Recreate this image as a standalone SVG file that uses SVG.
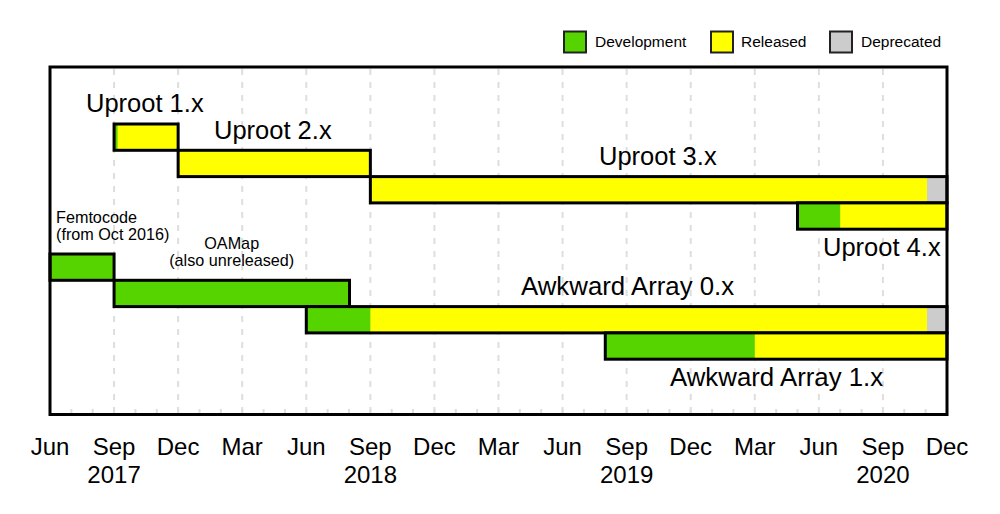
<svg xmlns="http://www.w3.org/2000/svg" width="1000" height="514" viewBox="0 0 1000 514">
<style>
text{font-family:"Liberation Sans",Arial,Helvetica,sans-serif;fill:#000}
.big{font-size:25.8px}
.up{font-size:25.5px}
.sm{font-size:16.2px}
.lt{font-size:15.5px}
.ax{font-size:24px;text-anchor:middle}
.grid{stroke:#dedede;stroke-width:2;stroke-dasharray:6 7}
.tick{stroke:#dedede;stroke-width:2}
.dev{fill:#55d400}
.rel{fill:#ffff00}
.dep{fill:#cccccc}
.bar{fill:none;stroke:#000;stroke-width:3}
.lg{stroke:#222;stroke-width:2}
</style>
<rect width="1000" height="514" fill="#fff"/>
<g id="legend">
<rect class="dev lg" x="564" y="31.5" width="22" height="21"/>
<text class="lt" x="595" y="46.5">Development</text>
<rect class="rel lg" x="711" y="31.5" width="22" height="21"/>
<text class="lt" x="741" y="46.5">Released</text>
<rect class="dep lg" x="830" y="31.5" width="22" height="21"/>
<text class="lt" x="861" y="46.5">Deprecated</text>
</g>
<g id="grid">
<line class="grid" x1="114.07" y1="69" x2="114.07" y2="414"/>
<line class="grid" x1="178.14" y1="69" x2="178.14" y2="414"/>
<line class="grid" x1="242.21" y1="69" x2="242.21" y2="414"/>
<line class="grid" x1="306.29" y1="69" x2="306.29" y2="414"/>
<line class="grid" x1="370.36" y1="69" x2="370.36" y2="414"/>
<line class="grid" x1="434.43" y1="69" x2="434.43" y2="414"/>
<line class="grid" x1="498.5" y1="69" x2="498.5" y2="414"/>
<line class="grid" x1="562.57" y1="69" x2="562.57" y2="414"/>
<line class="grid" x1="626.64" y1="69" x2="626.64" y2="414"/>
<line class="grid" x1="690.71" y1="69" x2="690.71" y2="414"/>
<line class="grid" x1="754.79" y1="69" x2="754.79" y2="414"/>
<line class="grid" x1="818.86" y1="69" x2="818.86" y2="414"/>
<line class="grid" x1="882.93" y1="69" x2="882.93" y2="414"/>
<path class="tick" d="M71.36 409V413M92.71 409V413M114.07 409V413M135.43 409V413M156.79 409V413M178.14 409V413M199.5 409V413M220.86 409V413M242.21 409V413M263.57 409V413M284.93 409V413M306.29 409V413M327.64 409V413M349 409V413M370.36 409V413M391.71 409V413M413.07 409V413M434.43 409V413M455.79 409V413M477.14 409V413M498.5 409V413M519.86 409V413M541.21 409V413M562.57 409V413M583.93 409V413M605.29 409V413M626.64 409V413M648 409V413M669.36 409V413M690.71 409V413M712.07 409V413M733.43 409V413M754.79 409V413M776.14 409V413M797.5 409V413M818.86 409V413M840.21 409V413M861.57 409V413M882.93 409V413M904.29 409V413M925.64 409V413"/>
</g>
<g id="uproot1">
<rect class="rel" x="114.07" y="124" width="64.07" height="26.3"/>
<rect class="dev" x="114.07" y="124" width="3.5" height="26.3"/>
<rect class="bar" x="114.07" y="124" width="64.07" height="26.3"/>
<text class="up" x="86" y="111.5">Uproot 1.x</text>
</g>
<g id="uproot2">
<rect class="rel" x="178.14" y="150.3" width="192.22" height="26.3"/>
<rect class="bar" x="178.14" y="150.3" width="192.22" height="26.3"/>
<text class="up" x="214" y="138.5">Uproot 2.x</text>
</g>
<g id="uproot3">
<rect class="rel" x="370.36" y="176.6" width="576.64" height="26.3"/>
<rect class="dep" x="927" y="176.6" width="20" height="26.3"/>
<rect class="bar" x="370.36" y="176.6" width="576.64" height="26.3"/>
<text class="up" x="599" y="165">Uproot 3.x</text>
</g>
<g id="uproot4">
<rect class="rel" x="797.5" y="202.9" width="149.5" height="26.3"/>
<rect class="dev" x="797.5" y="202.9" width="42.7" height="26.3"/>
<rect class="bar" x="797.5" y="202.9" width="149.5" height="26.3"/>
<text class="up" x="823" y="256">Uproot 4.x</text>
</g>
<g id="femtocode">
<rect class="dev" x="50" y="254" width="64.07" height="26.3"/>
<rect class="bar" x="50" y="254" width="64.07" height="26.3"/>
<text class="sm" x="56" y="222.7">Femtocode</text>
<text class="sm" x="56" y="240">(from Oct 2016)</text>
</g>
<g id="oamap">
<rect class="dev" x="114.07" y="280.3" width="235.43" height="26.3"/>
<rect class="bar" x="114.07" y="280.3" width="235.43" height="26.3"/>
<text class="sm" x="231.7" y="249.3" text-anchor="middle">OAMap</text>
<text class="sm" x="231.7" y="266" text-anchor="middle">(also unreleased)</text>
</g>
<g id="awkward0">
<rect class="rel" x="306.29" y="306.6" width="640.71" height="26.3"/>
<rect class="dev" x="306.29" y="306.6" width="64.07" height="26.3"/>
<rect class="dep" x="927" y="306.6" width="20" height="26.3"/>
<rect class="bar" x="306.29" y="306.6" width="640.71" height="26.3"/>
<text class="big" x="521" y="295">Awkward Array 0.x</text>
</g>
<g id="awkward1">
<rect class="rel" x="605.29" y="332.9" width="341.71" height="26.3"/>
<rect class="dev" x="605.29" y="332.9" width="149.5" height="26.3"/>
<rect class="bar" x="605.29" y="332.9" width="341.71" height="26.3"/>
<text class="big" x="670" y="386">Awkward Array 1.x</text>
</g>
<g id="frame">
<rect x="50" y="67" width="897" height="347.5" fill="none" stroke="#000" stroke-width="3"/>
</g>
<g id="axis">
<text class="ax" x="50" y="455">Jun</text>
<text class="ax" x="114.07" y="455">Sep</text>
<text class="ax" x="178.14" y="455">Dec</text>
<text class="ax" x="242.21" y="455">Mar</text>
<text class="ax" x="306.29" y="455">Jun</text>
<text class="ax" x="370.36" y="455">Sep</text>
<text class="ax" x="434.43" y="455">Dec</text>
<text class="ax" x="498.5" y="455">Mar</text>
<text class="ax" x="562.57" y="455">Jun</text>
<text class="ax" x="626.64" y="455">Sep</text>
<text class="ax" x="690.71" y="455">Dec</text>
<text class="ax" x="754.79" y="455">Mar</text>
<text class="ax" x="818.86" y="455">Jun</text>
<text class="ax" x="882.93" y="455">Sep</text>
<text class="ax" x="947" y="455">Dec</text>
<text class="ax" x="114.07" y="482.7">2017</text>
<text class="ax" x="370.36" y="482.7">2018</text>
<text class="ax" x="626.64" y="482.7">2019</text>
<text class="ax" x="882.93" y="482.7">2020</text>
</g>
</svg>
